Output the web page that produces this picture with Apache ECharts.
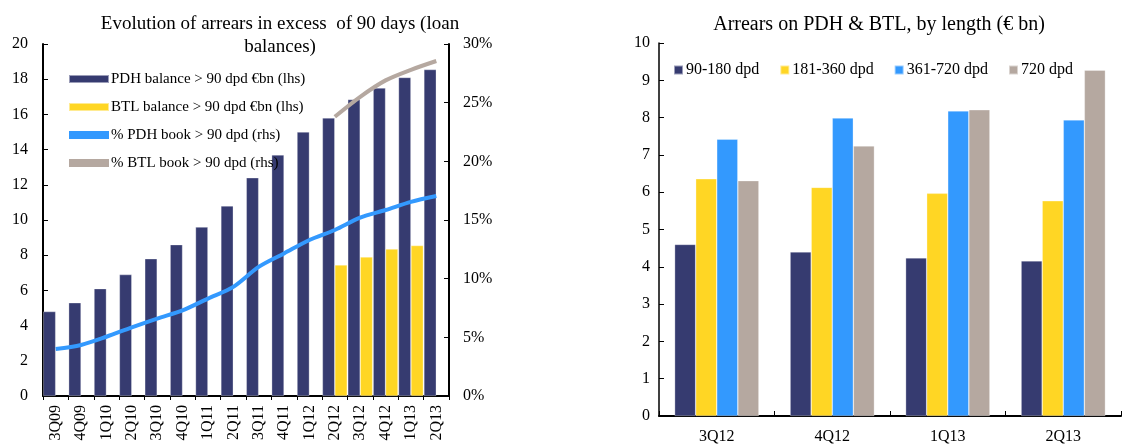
<!DOCTYPE html>
<html>
<head>
<meta charset="utf-8">
<script src="https://cdn.jsdelivr.net/npm/echarts@6/dist/echarts.min.js"></script>
<style>
  html, body { margin: 0; padding: 0; background: #fff; }
  #chart { width: 1135px; height: 447px; }
</style>
</head>
<body>
<div id="chart"></div>
<script>
// left panel: quarterly arrears > 90 days
const quarters = ['3Q09', '4Q09', '1Q10', '2Q10', '3Q10', '4Q10', '1Q11', '2Q11',
  '3Q11', '4Q11', '1Q12', '2Q12', '3Q12', '4Q12', '1Q13', '2Q13'];
const pdhBalance = [4.8, 5.3, 6.1, 6.9, 7.8, 8.6, 9.6, 10.8, 12.4, 13.7, 15.0, 15.8, 16.85, 17.5, 18.1, 18.55];
const btlBalance = [null, null, null, null, null, null, null, null, null, null, null, 7.45, 7.9, 8.35, 8.55];
const pdhBookPct = [4.0, 4.35, 5.05, 5.85, 6.6, 7.3, 8.3, 9.3, 11.0, 12.15, 13.3, 14.15, 15.2, 15.85, 16.55, 17.05];
const btlBookPct = [null, null, null, null, null, null, null, null, null, null, null, 23.8, 25.5, 26.9, 27.8, 28.55];

// right panel: arrears by length
const lengthQuarters = ['3Q12', '4Q12', '1Q13', '2Q13'];
const dpd90to180 = [4.6, 4.4, 4.24, 4.16];
const dpd181to360 = [6.36, 6.13, 5.97, 5.77];
const dpd361to720 = [7.42, 7.99, 8.18, 7.94];
const dpd720 = [6.31, 7.24, 8.21, 9.27];

const NAVY = '#363b70';
const YELLOW = '#ffd624';
const BLUE = '#3399fe';
const TAUPE = '#b5a8a0';
const FONT = '"Liberation Serif", "Times New Roman", serif';

const chart = echarts.init(document.getElementById('chart'));

const axisLine = { show: true, lineStyle: { color: '#000', width: 2 } };
const barBorder = { borderColor: 'rgba(255,255,255,0.5)', borderWidth: 0.6 };

const option = {
  animation: false,
  textStyle: { fontFamily: FONT },
  title: [
    {
      text: 'Evolution of arrears in excess  of 90 days (loan\nbalances)',
      left: 275, top: 8, textAlign: 'center',
      textStyle: { fontFamily: FONT, fontSize: 19, fontWeight: 'normal', color: '#000', lineHeight: 23 },
    },
    {
      text: 'Arrears on PDH & BTL, by length (€ bn)',
      left: 874, top: 10, textAlign: 'center',
      textStyle: { fontFamily: FONT, fontSize: 20, fontWeight: 'normal', color: '#000' },
    },
  ],
  legend: [
    {
      orient: 'vertical',
      left: 63, top: 65,
      itemWidth: 40, itemHeight: 8, itemGap: 10,
      icon: 'rect',
      textStyle: { fontFamily: FONT, fontSize: 15, color: '#000', lineHeight: 18, padding: [0, 0, 0, -3] },
      data: ['PDH balance > 90 dpd €bn (lhs)', 'BTL balance > 90 dpd €bn (lhs)',
        '% PDH book > 90 dpd (rhs)', '% BTL book > 90 dpd (rhs)'],
    },
    {
      orient: 'horizontal',
      left: 668, top: 57,
      itemWidth: 9, itemHeight: 9, itemGap: 20,
      icon: 'rect',
      textStyle: { fontFamily: FONT, fontSize: 16, color: '#000', padding: [0, 0, 0, -2] },
      data: ['90-180 dpd', '181-360 dpd', '361-720 dpd', '720 dpd'],
    },
  ],
  grid: [
    { left: 43, top: 44, width: 406, height: 352 },
    { left: 659, top: 43, width: 462, height: 373 },
  ],
  xAxis: [
    {
      gridIndex: 0, type: 'category', data: quarters,
      axisLine: axisLine,
      axisTick: { show: true, inside: false, length: 4, lineStyle: { color: '#000' } },
      axisLabel: { rotate: 90, margin: 9, fontFamily: FONT, fontSize: 16, color: '#000' },
    },
    {
      gridIndex: 1, type: 'category', data: lengthQuarters,
      axisLine: axisLine,
      axisTick: { show: true, inside: true, length: 5, lineStyle: { color: '#000' } },
      axisLabel: { margin: 13, fontFamily: FONT, fontSize: 16, color: '#000' },
    },
  ],
  yAxis: [
    {
      gridIndex: 0, type: 'value', min: 0, max: 20, interval: 2,
      axisLine: axisLine,
      axisTick: { show: true, inside: true, length: 5, lineStyle: { color: '#000' } },
      axisLabel: { margin: 15, fontFamily: FONT, fontSize: 16, color: '#000' },
      splitLine: { show: false },
    },
    {
      gridIndex: 0, type: 'value', min: 0, max: 30, interval: 5, position: 'right',
      axisLine: axisLine,
      axisTick: { show: true, inside: true, length: 5, lineStyle: { color: '#000' } },
      axisLabel: { margin: 14, fontFamily: FONT, fontSize: 16, color: '#000', formatter: '{value}%' },
      splitLine: { show: false },
    },
    {
      gridIndex: 1, type: 'value', min: 0, max: 10, interval: 1,
      axisLine: { show: true, lineStyle: { color: '#000', width: 1.5 } },
      axisTick: { show: true, inside: true, length: 5, lineStyle: { color: '#000' } },
      axisLabel: { margin: 9, fontFamily: FONT, fontSize: 16, color: '#000' },
      splitLine: { show: false },
    },
  ],
  series: [
    {
      name: 'PDH balance > 90 dpd €bn (lhs)', type: 'bar',
      xAxisIndex: 0, yAxisIndex: 0, data: pdhBalance,
      barGap: '0%', barCategoryGap: '2%',
      itemStyle: Object.assign({ color: NAVY }, barBorder),
    },
    {
      name: 'BTL balance > 90 dpd €bn (lhs)', type: 'bar',
      xAxisIndex: 0, yAxisIndex: 0, data: btlBalance,
      itemStyle: Object.assign({ color: YELLOW }, barBorder),
    },
    {
      name: '% PDH book > 90 dpd (rhs)', type: 'line',
      xAxisIndex: 0, yAxisIndex: 1, data: pdhBookPct,
      smooth: 0.3, showSymbol: false,
      lineStyle: { color: BLUE, width: 4 }, itemStyle: { color: BLUE },
    },
    {
      name: '% BTL book > 90 dpd (rhs)', type: 'line',
      xAxisIndex: 0, yAxisIndex: 1, data: btlBookPct,
      smooth: 0.3, showSymbol: false,
      lineStyle: { color: TAUPE, width: 4 }, itemStyle: { color: TAUPE },
    },
    {
      name: '90-180 dpd', type: 'bar', xAxisIndex: 1, yAxisIndex: 2, data: dpd90to180,
      barGap: '0%', barCategoryGap: '27%',
      itemStyle: Object.assign({ color: NAVY }, barBorder),
    },
    {
      name: '181-360 dpd', type: 'bar', xAxisIndex: 1, yAxisIndex: 2, data: dpd181to360,
      itemStyle: Object.assign({ color: YELLOW }, barBorder),
    },
    {
      name: '361-720 dpd', type: 'bar', xAxisIndex: 1, yAxisIndex: 2, data: dpd361to720,
      itemStyle: Object.assign({ color: BLUE }, barBorder),
    },
    {
      name: '720 dpd', type: 'bar', xAxisIndex: 1, yAxisIndex: 2, data: dpd720,
      itemStyle: Object.assign({ color: TAUPE }, barBorder),
    },
  ],
};

chart.setOption(option);
</script>
</body>
</html>
